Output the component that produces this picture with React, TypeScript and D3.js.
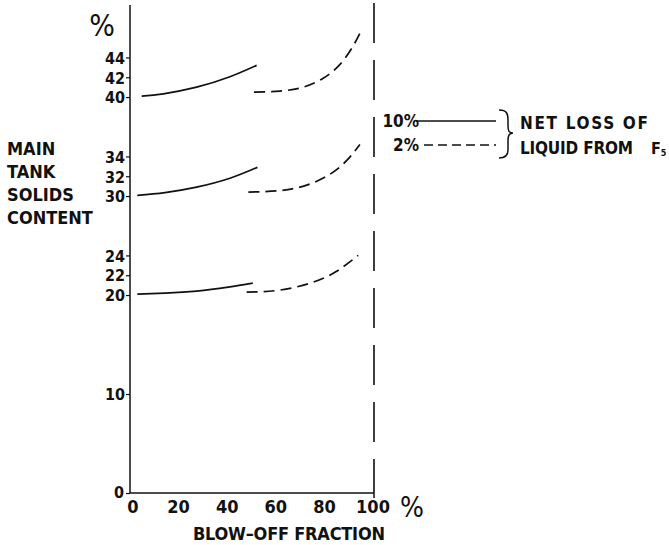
import React, { useEffect, useRef } from 'react';
import * as d3 from 'd3';

// blow-off fraction (%) vs main tank solids content (%)
const xTicks = [0, 20, 40, 60, 80, 100];
const yTicks = [0, 10, 20, 22, 24, 30, 32, 34, 40, 42, 44];

// 10% net loss of liquid (solid lines)
const loss10At40 = [[4.4, 40.1], [13.3, 40.33], [27, 41.0], [40.7, 42.05], [51.7, 43.2]];
const loss10At30 = [[2.6, 30.07], [14, 30.35], [27, 30.9], [40.7, 31.8], [52, 32.9]];
const loss10At20 = [[2.6, 20.1], [14, 20.2], [27, 20.4], [40, 20.8], [50.1, 21.2]];

// 2% net loss of liquid (dashed lines)
const loss2At40 = [[50.6, 40.5], [61.3, 40.6], [70.9, 41.0], [79.1, 41.9], [86, 43.3], [91.5, 45.2], [94.9, 46.8]];
const loss2At30 = [[48.3, 30.4], [61.3, 30.55], [72.3, 31.1], [81.9, 32.2], [88.8, 33.6], [94.2, 35.2]];
const loss2At20 = [[47.6, 20.3], [61.3, 20.5], [75, 21.3], [84.6, 22.4], [93.5, 24.0]];

const legendLabels = ['10%', '2%'];
const legendNote = ['NET LOSS OF', 'LIQUID FROM'];
const yTitle = ['MAIN', 'TANK', 'SOLIDS', 'CONTENT'];

const FONT = "'Liberation Sans Narrow', 'DejaVu Sans Condensed', 'Liberation Sans', sans-serif";

const App = () => {
  const svgRef = useRef(null);

  useEffect(() => {
    const svg = d3.select(svgRef.current);
    svg.selectAll('*').remove();
    svg.style('font-family', FONT).style('font-weight', 'bold');

    const xScale = d3.scaleLinear().domain([0, 100]).range([131, 374]);
    const yScale = d3.scaleLinear().domain([0, 49.3]).range([493, 5]);

    // y axis
    const yAxis = d3.axisLeft(yScale).tickValues(yTicks).tickSize(4).tickFormat(d3.format('d'));
    const gy = svg.append('g').attr('transform', `translate(${xScale(0) - 1},0)`).call(yAxis);
    gy.select('.domain').remove();
    gy.selectAll('line').attr('stroke', '#111').attr('stroke-width', 1.2);
    gy.selectAll('text')
      .attr('x', -5)
      .attr('dy', '0.36em')
      .style('font-size', '16px')
      .style('font-family', FONT)
      .style('font-weight', 'bold')
      .attr('fill', '#111');
    gy.selectAll('.tick').filter(d => d === 0).select('text').attr('x', -6).attr('dy', '0.3em');

    svg.append('line')
      .attr('x1', xScale(0) - 1).attr('x2', xScale(0) - 1)
      .attr('y1', yScale(49.3)).attr('y2', yScale(0))
      .attr('stroke', '#111').attr('stroke-width', 1.5);

    // x axis
    svg.append('line')
      .attr('x1', xScale(0) - 1).attr('x2', xScale(100))
      .attr('y1', yScale(0)).attr('y2', yScale(0))
      .attr('stroke', '#111').attr('stroke-width', 1.5);
    svg.append('line')
      .attr('x1', xScale(100)).attr('x2', xScale(100))
      .attr('y1', yScale(0)).attr('y2', yScale(0) + 5)
      .attr('stroke', '#111').attr('stroke-width', 1.5);

    svg.append('g').selectAll('text')
      .data(xTicks)
      .join('text')
      .attr('x', d => xScale(d) + (d === 0 ? 2 : -1))
      .attr('y', yScale(0) + 20)
      .attr('text-anchor', 'middle')
      .style('font-size', '18px')
      .attr('fill', '#111')
      .text(d => d);

    // dashed limit line at 100%
    svg.append('line')
      .attr('x1', xScale(100)).attr('x2', xScale(100))
      .attr('y1', 3).attr('y2', yScale(0))
      .attr('stroke', '#111').attr('stroke-width', 1.6)
      .attr('stroke-dasharray', '40 17');

    // curves
    const line = d3.line()
      .x(d => xScale(d[0]))
      .y(d => yScale(d[1]))
      .curve(d3.curveNatural);

    [loss10At40, loss10At30, loss10At20].forEach(s => {
      svg.append('path')
        .datum(s)
        .attr('d', line)
        .attr('fill', 'none')
        .attr('stroke', '#111')
        .attr('stroke-width', 1.7);
    });
    [loss2At40, loss2At30, loss2At20].forEach(s => {
      svg.append('path')
        .datum(s)
        .attr('d', line)
        .attr('fill', 'none')
        .attr('stroke', '#111')
        .attr('stroke-width', 1.7)
        .attr('stroke-dasharray', '11 6');
    });

    // % units
    svg.append('text')
      .attr('x', 102).attr('y', 36)
      .attr('text-anchor', 'middle')
      .style('font-size', '30px')
      .style('font-weight', 'normal')
      .attr('fill', '#111')
      .text('%');
    svg.append('text')
      .attr('x', 412).attr('y', 517)
      .attr('text-anchor', 'middle')
      .style('font-size', '28px')
      .style('font-weight', 'normal')
      .attr('fill', '#111')
      .text('%');

    // axis titles
    svg.append('text')
      .attr('x', 193).attr('y', 540)
      .attr('textLength', 192)
      .attr('lengthAdjust', 'spacing')
      .style('font-size', '18px')
      .attr('fill', '#111')
      .text('BLOW\u2013OFF  FRACTION');

    svg.append('g').selectAll('text')
      .data(yTitle)
      .join('text')
      .attr('x', 7)
      .attr('y', (d, i) => 155 + i * 23)
      .style('font-size', '18px')
      .attr('fill', '#111')
      .text(d => d);

    // legend
    const legY = [121, 145];
    const leg = svg.append('g');
    leg.selectAll('text.lab')
      .data(legendLabels)
      .join('text')
      .attr('class', 'lab')
      .attr('x', 419)
      .attr('y', (d, i) => legY[i] + 6)
      .attr('text-anchor', 'end')
      .style('font-size', '17px')
      .attr('fill', '#111')
      .text(d => d);
    leg.selectAll('line')
      .data(legendLabels)
      .join('line')
      .attr('x1', (d, i) => (i === 0 ? 416 : 424))
      .attr('x2', 496)
      .attr('y1', (d, i) => legY[i])
      .attr('y2', (d, i) => legY[i])
      .attr('stroke', '#111')
      .attr('stroke-width', 1.5)
      .attr('stroke-dasharray', (d, i) => (i === 0 ? null : '9 5'));

    // brace
    leg.append('path')
      .attr('d', 'M499,110 C507,110 508,114 508,120 L508,126 C508,131 509,133 513,133 C509,133 508,136 508,140 L508,150 C508,156 505,158 499,158')
      .attr('fill', 'none')
      .attr('stroke', '#111')
      .attr('stroke-width', 1.5);

    leg.selectAll('text.note')
      .data(legendNote)
      .join('text')
      .attr('class', 'note')
      .attr('x', 520)
      .attr('y', (d, i) => 129 + i * 25)
      .attr('textLength', (d, i) => (i === 0 ? 128 : 113))
      .attr('lengthAdjust', 'spacing')
      .style('font-size', '17px')
      .attr('fill', '#111')
      .text(d => d);
    const f5 = leg.append('text')
      .attr('x', 651).attr('y', 154)
      .style('font-size', '16px')
      .attr('fill', '#111')
      .text('F');
    f5.append('tspan')
      .attr('dy', 2)
      .style('font-size', '9px')
      .text('5');
  }, []);

  return (
    <svg
      ref={svgRef}
      width={669}
      height={545}
      style={{ position: 'absolute', left: 0, top: 0, background: '#fff' }}
    />
  );
};

export default App;
